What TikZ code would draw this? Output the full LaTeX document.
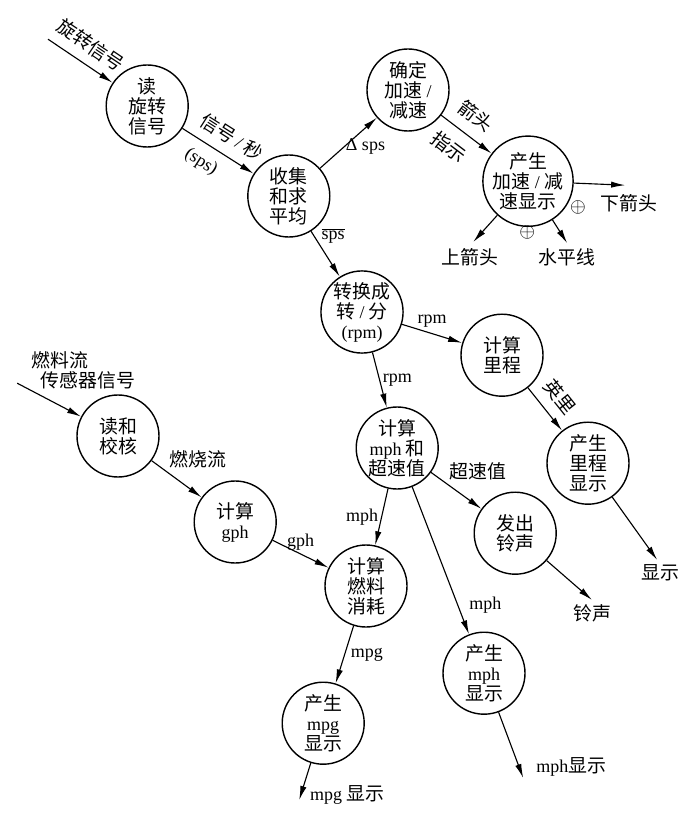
\documentclass[tikz,border=0pt]{standalone}
\usepackage{fontspec}
\setmainfont{Liberation Serif}
\newfontfamily\zhfont[Scale=1.05]{Noto Sans CJK SC}
\usetikzlibrary{arrows.meta, positioning}
\newcommand{\en}[1]{{\rmfamily #1}}

\begin{document}
\begin{tikzpicture}[
    proc/.style={circle, draw, line width=1pt, minimum size=2.05cm, inner sep=0pt, align=center,
                 font=\zhfont\fontsize{12.8}{14.2}\selectfont},
    arr/.style={-{Latex[length=10pt,width=4.5pt]}, line width=0.8pt},
    flow/.style={font=\zhfont\fontsize{12.8}{14.2}\selectfont, inner sep=2pt},
    sink/.style={font=\zhfont\fontsize{12.8}{14.2}\selectfont, align=left},
    junc/.style={font=\fontsize{14}{16}\selectfont, inner sep=0pt}
]
\useasboundingbox (0,0) rectangle (17.425,-20.475);

\node[proc] (read)    at (3.68,-2.65)  {读\\旋转\\信号};
\node[proc] (avg)     at (7.22,-4.90)  {收集\\和求\\平均};
\node[proc] (accel)   at (10.20,-2.25) {确定\\加速 \en{/}\\减速};
\node[proc] (accdisp) at (13.20,-4.53) {产生\\加速 \en{/} 减\\速显示};
\node[proc] (torpm)   at (9.05,-7.80)  {转换成\\转 \en{/} 分\\\en{(rpm)}};
\node[proc] (odo)     at (12.55,-8.88) {计算\\里程};
\node[proc] (ododisp) at (14.70,-11.58) {产生\\里程\\显示};
\node[proc] (speed)   at (9.93,-11.20) {计算\\\en{mph} 和\\超速值};
\node[proc] (bell)    at (12.88,-13.33) {发出\\铃声};
\node[proc] (fuel)    at (9.15,-14.65) {计算\\燃料\\消耗};
\node[proc] (gph)     at (5.88,-13.05) {计算\\\en{gph}};
\node[proc] (fread)   at (2.95,-10.90) {读和\\校核};
\node[proc] (mphdisp) at (12.10,-16.83) {产生\\\en{mph}\\显示};
\node[proc] (mpgdisp) at (8.08,-18.08) {产生\\\en{mpg}\\显示};

\coordinate (rotin)   at (1.20,-0.98);
\coordinate (fuelin)  at (0.43,-9.58);
\coordinate (dnout)   at (15.63,-4.63);
\coordinate (upout)   at (11.83,-6.05);
\coordinate (flatout) at (14.18,-6.08);
\coordinate (odoout)  at (16.43,-14.00);
\coordinate (bellout) at (14.80,-15.00);
\coordinate (mphout)  at (13.08,-19.45);
\coordinate (mpgout)  at (7.48,-20.00);

\node[flow] (dntxt)   at (15.73,-5.08)  {下箭头};
\node[flow] (uptxt)   at (11.75,-6.43)  {上箭头};
\node[flow] (flattxt) at (14.18,-6.43)  {水平线};
\node[flow] (odotxt)  at (16.50,-14.33) {显示};
\node[flow] (belltxt) at (14.80,-15.33) {铃声};
\node[flow] (mphtxt)  at (14.28,-19.18) {\en{mph}显示};
\node[flow] (mpgtxt)  at (8.68,-19.88)  {\en{mpg} 显示};
\node[sink] (fueltxt) at (2.08,-9.25)   {燃料流\\\hspace{0.23cm}传感器信号};
\node[junc] (plusa)   at (14.45,-5.18)  {\(\oplus\)};
\node[junc] (plusb)   at (13.18,-5.80)  {\(\oplus\)};

\draw[arr] (rotin) -- node[flow,midway,sloped,above=5pt]{旋转信号} (read);
\draw[arr] (read) -- node[flow,pos=0.55,sloped,above=5pt]{信号 \en{/} 秒}
                     node[flow,pos=0.4,sloped,below=5pt]{\en{(sps)}} (avg);
\draw[arr] (avg) -- node[flow,pos=0.8,below=5pt]{\en{Δ sps}} (accel);
\draw[arr] (accel) -- node[flow,pos=0.45,sloped,above=6pt]{箭头}
                      node[flow,pos=0.4,sloped,below=6pt]{指示} (accdisp);
\draw[arr] (accdisp) -- (dnout);
\draw[arr] (accdisp) -- (upout);
\draw[arr] (accdisp) -- (flatout);
\draw[arr] (avg) -- node[flow,pos=0.1,right=3pt]{\en{$\overline{\mbox{sps}}$}} (torpm);
\draw[arr] (torpm) -- node[flow,midway,above=2pt]{\en{rpm}} (odo);
\draw[arr] (torpm) -- node[flow,midway,right]{\en{rpm}} (speed);
\draw[arr] (odo) -- node[flow,midway,sloped,above=5pt]{英里} (ododisp);
\draw[arr] (ododisp) -- (odoout);
\draw[arr] (speed) -- node[flow,pos=0.3,above right]{超速值} (bell);
\draw[arr] (bell) -- (bellout);
\draw[arr] (speed) -- node[flow,midway,left]{\en{mph}} (fuel);
\draw[arr] (speed) -- node[flow,pos=0.8,right=6pt]{\en{mph}} (mphdisp);
\draw[arr] (mphdisp) -- (mphout);
\draw[arr] (fuelin) -- (fread);
\draw[arr] (fread) -- node[flow,pos=0.3,above right]{燃烧流} (gph);
\draw[arr] (gph) -- node[flow,midway,above]{\en{gph}} (fuel);
\draw[arr] (fuel) -- node[flow,midway,right=2pt]{\en{mpg}} (mpgdisp);
\draw[arr] (mpgdisp) -- (mpgout);
\end{tikzpicture}
\end{document}
